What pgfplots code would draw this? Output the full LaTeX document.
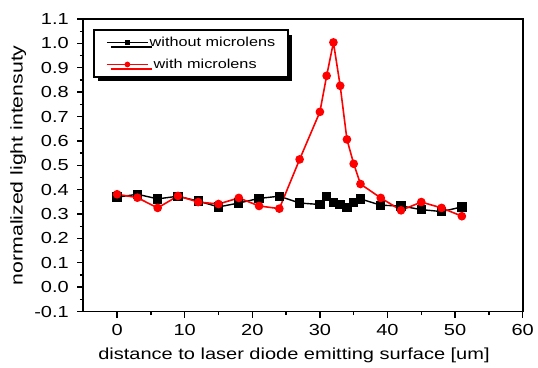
\documentclass[border=0pt]{standalone}
\usepackage{fontspec}
\setmainfont{Liberation Sans}[FakeStretch=1.25]
\usepackage{pgfplots}
\pgfplotsset{compat=1.18}
\usepackage{pgfplotstable}
\usetikzlibrary{shadows}
\pgfplotstableread{
x black red
0 0.369 0.381
3 0.381 0.367
6 0.362 0.325
9 0.373 0.374
12 0.353 0.349
15 0.329 0.341
18 0.345 0.366
21 0.364 0.333
24 0.373 0.322
27 0.345 0.524
30 0.339 0.719
31 0.373 0.867
32 0.347 1.004
33 0.339 0.826
34 0.326 0.606
35 0.347 0.506
36 0.362 0.423
39 0.336 0.366
42 0.333 0.315
45 0.318 0.349
48 0.310 0.325
51 0.329 0.291
}\datatable
\begin{document}
\begin{tikzpicture}
\begin{axis}[
  scale only axis,
  width=439.4pt, height=292.5pt,
  xmin=-5, xmax=60, ymin=-0.1, ymax=1.1,
  xtick={0,10,...,60},
  ytick={-0.1,0,0.1,0.2,0.3,0.4,0.5,0.6,0.7,0.8,0.9,1.0,1.1},
  minor x tick num=1, minor y tick num=1,
  tick align=outside,
  xtick pos=bottom, ytick pos=left,
  major tick length=6pt, minor tick length=3.5pt,
  every tick/.style={black, line width=1.3pt},
  axis line style={line width=1.6pt},
  /pgf/number format/assume math mode=true,
  yticklabel style={/pgf/number format/fixed, /pgf/number format/fixed zerofill, /pgf/number format/precision=1, xshift=-5pt},
  tick label style={font=\fontsize{16}{19}\selectfont},
  xticklabel style={yshift=-3pt},
  xlabel={distance to laser diode emitting surface [um]},
  ylabel={normalized light intensuty},
  xlabel style={font=\fontsize{16}{19}\selectfont, at={(axis description cs:0.4795,-0.1658)}, anchor=base},
  ylabel style={font=\fontsize{17}{20}\selectfont, at={(axis description cs:-0.148,0.5)}, anchor=center},
  legend cell align=left,
  legend image code/.code={\draw[mark repeat=2, mark phase=2, #1, mark size=2pt] plot coordinates {(0pt,0pt) (20.5pt,0pt) (41pt,0pt)};},
  legend style={at={(0.0228,0.9648)}, anchor=north west, draw=black, line width=1.6pt,
    fill=white, font=\fontsize{13}{15}\selectfont,
    inner xsep=12pt, inner ysep=6pt, row sep=9pt,
    nodes={inner sep=1pt},
    drop shadow={shadow xshift=4pt, shadow yshift=-4.5pt, opacity=1, fill=black}},
]
\addplot[black, line width=1.4pt, mark=square*, mark size=4pt, mark options={solid}] table[x=x, y=black] {\datatable};
\addlegendentry{without microlens}
\addplot[red, line width=1.6pt, mark=*, mark size=3.5pt, mark options={solid}] table[x=x, y=red] {\datatable};
\addlegendentry{\hspace{4pt}with microlens}
\end{axis}
\pgfresetboundingbox
\path (current axis.south west) ++(-83.3pt,-55.5pt) rectangle ++(538pt,367pt);
\end{tikzpicture}
\end{document}
